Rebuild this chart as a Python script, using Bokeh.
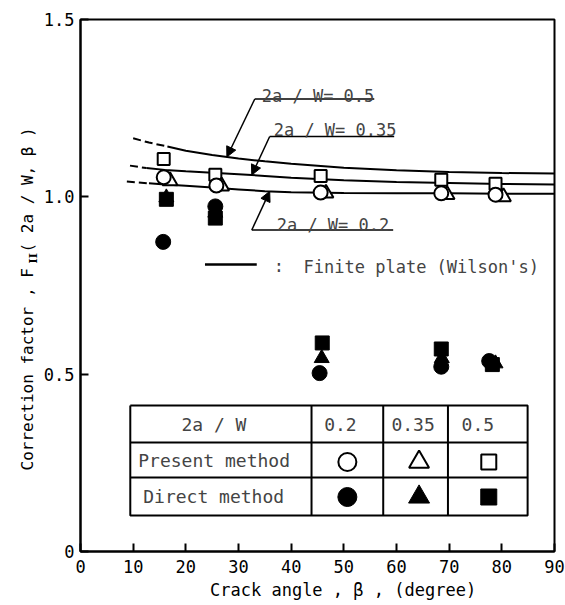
import numpy as np
from bokeh.plotting import figure
from bokeh.layouts import row
from bokeh.models import Label, Arrow, NormalHead, FixedTicker, Range1d
from bokeh.core.properties import value
from bokeh.embed import file_html
from bokeh.resources import INLINE

# ---------------- data ----------------
# Wilson's finite plate solution curves
curve_beta_05 = [10, 13, 16.5, 20, 25, 30, 35, 40, 50, 60, 70, 80, 90]
curve_F_05 = [1.165, 1.153, 1.142, 1.130, 1.118, 1.108, 1.100, 1.093, 1.082, 1.075, 1.070, 1.067, 1.066]
dash_end_05 = 16.5

curve_beta_035 = [9.4, 12.5, 16, 20, 25, 30, 35, 40, 50, 60, 70, 80, 90]
curve_F_035 = [1.088, 1.081, 1.076, 1.072, 1.068, 1.064, 1.059, 1.054, 1.047, 1.042, 1.039, 1.036, 1.035]
dash_end_035 = 12.5

curve_beta_02 = [8.8, 13, 16, 20, 25, 30, 35, 40, 50, 60, 70, 80, 90]
curve_F_02 = [1.043, 1.038, 1.035, 1.031, 1.026, 1.021, 1.016, 1.013, 1.011, 1.010, 1.010, 1.009, 1.009]
dash_end_02 = 13

# Present method (open symbols)
present_beta_02 = [15.8, 25.8, 45.6, 68.5, 78.8]
present_F_02 = [1.055, 1.032, 1.012, 1.010, 1.006]
present_beta_035 = [17.0, 26.8, 46.6, 69.6, 80.3]
present_F_035 = [1.045, 1.030, 1.010, 1.006, 1.000]
present_beta_05 = [15.8, 25.6, 45.6, 68.5, 78.8]
present_F_05 = [1.107, 1.062, 1.059, 1.048, 1.037]

# Direct method (filled symbols)
direct_beta_02 = [15.7, 25.6, 45.4, 68.5, 77.6]
direct_F_02 = [0.873, 0.973, 0.503, 0.521, 0.537]
direct_beta_035 = [16.3, 25.6, 45.8, 68.6, 78.8]
direct_F_035 = [0.998, 0.955, 0.545, 0.545, 0.530]
direct_beta_05 = [16.3, 25.6, 45.9, 68.5, 78.2]
direct_F_05 = [0.993, 0.940, 0.588, 0.571, 0.527]

x_ticks = [0, 10, 20, 30, 40, 50, 60, 70, 80, 90]
y_ticks = [0, 0.5, 1.0, 1.5]
y_tick_labels = ["0", "0.5", "1.0", "1.5"]
table_header = ["2a / W", "0.2", "0.35", "0.5"]
table_rows = ["Present method", "Direct method"]
x_title = "Crack  angle , β , (degree)"
y_title_main = "Correction factor , F"
y_title_sub = "II"
y_title_tail = "( 2a / W, β )"

# ---------------- layout helpers (reference-pixel -> data) ----------------
FL, FR, FT, FB = 78, 554, 19, 551
def X(px):
    return (px - FL) / (FR - FL) * 90.0
def Y(py):
    return (FB - py) / (FB - FT) * 1.5

MONO = "DejaVu Sans Mono"
LEFT_W = 40

p = figure(width=565 - LEFT_W, height=605, x_range=Range1d(0, 90), y_range=Range1d(0, 1.5),
           output_backend="svg", toolbar_location=None,
           min_border_left=FL - LEFT_W, min_border_right=565 - FR, min_border_top=FT,
           min_border_bottom=605 - FB)
p.background_fill_color = "white"
p.border_fill_color = "white"
p.xgrid.visible = False
p.ygrid.visible = False
p.outline_line_color = "black"
p.outline_line_width = 2
p.outline_line_alpha = 1

for ax in (p.xaxis[0], p.yaxis[0]):
    ax.axis_line_width = 2
    ax.major_tick_in = 8
    ax.major_tick_out = 0
    ax.major_tick_line_width = 2
    ax.minor_tick_line_color = None
    ax.major_label_text_font = MONO
    ax.major_label_text_font_size = "17px"
    ax.major_label_text_color = "black"

p.xaxis.ticker = FixedTicker(ticks=x_ticks)
p.xaxis.major_label_standoff = 8
p.xaxis.axis_label = "\u00a0" * 6 + x_title
p.xaxis.axis_label_text_font = MONO
p.xaxis.axis_label_text_font_size = "17px"
p.xaxis.axis_label_text_font_style = "normal"
p.xaxis.axis_label_text_color = "black"
p.xaxis.axis_label_standoff = 4
p.yaxis.ticker = FixedTicker(ticks=y_ticks)
p.yaxis.major_label_overrides = {t: s for t, s in zip(y_ticks, y_tick_labels)}
p.yaxis.major_label_standoff = 6

# ---------------- curves ----------------
def draw_curve(b, f, cut):
    i = b.index(cut)
    p.line(b[:i + 1], f[:i + 1], line_color="black", line_width=2, line_dash="8 4")
    p.line(b[i:], f[i:], line_color="black", line_width=2)

draw_curve(curve_beta_05, curve_F_05, dash_end_05)
draw_curve(curve_beta_035, curve_F_035, dash_end_035)
draw_curve(curve_beta_02, curve_F_02, dash_end_02)

# ---------------- markers ----------------
p.scatter(direct_beta_035, direct_F_035, marker="triangle", size=15, fill_color="black", line_color="black")
p.scatter(direct_beta_05, direct_F_05, marker="square", size=14, fill_color="black", line_color="black")
p.scatter(direct_beta_02, direct_F_02, marker="circle", size=15, fill_color="black", line_color="black")

p.scatter(present_beta_05, present_F_05, marker="square", size=12, fill_color="white", line_color="black", line_width=2)
p.scatter(present_beta_035, present_F_035, marker="triangle", size=15, fill_color="white", line_color="black", line_width=2)
p.scatter(present_beta_02, present_F_02, marker="circle", size=14, fill_color="white", line_color="black", line_width=2)

# ---------------- curve annotations ----------------
def annotate(text, tx, ty, uy, ux0, ux1, tip_px, cb, cf):
    p.add_layout(Label(x=X(tx), y=Y(ty), text=text, text_font=MONO, text_font_size="17px",
                       text_baseline="alphabetic"))
    p.line([X(ux0), X(ux1)], [Y(uy), Y(uy)], line_color="black", line_width=1.5)
    bt = X(tip_px)
    p.add_layout(Arrow(end=NormalHead(size=10, fill_color="black", line_color="black", line_width=1),
                       x_start=X(ux0), y_start=Y(uy), x_end=bt, y_end=float(np.interp(bt, cb, cf)),
                       line_color="black", line_width=1.5))

annotate("2a / W= 0.5", 260, 95, 98.5, 253, 373, 225, curve_beta_05, curve_F_05)
annotate("2a / W= 0.35", 272, 129, 136, 268, 393, 250, curve_beta_035, curve_F_035)
annotate("2a / W= 0.2", 275, 224, 229.5, 250, 392, 268, curve_beta_02, curve_F_02)

# legend line
p.line([X(203), X(255)], [Y(264), Y(264)], line_color="black", line_width=2.5)
p.add_layout(Label(x=X(272), y=Y(265), text=":", text_font=MONO, text_font_size="17px", text_baseline="middle"))
p.add_layout(Label(x=X(302), y=Y(266), text="Finite plate (Wilson's)", text_font=MONO,
                   text_font_size="17px", text_baseline="middle"))

# ---------------- table ----------------
tl, tr, tt, tb = X(128), X(527), Y(405), Y(515)
rows_y = [Y(442), Y(477)]
cols_x = [X(310), X(382), X(447)]
xs = [[tl, tr, tr, tl, tl]] + [[tl, tr] for _ in rows_y] + [[c, c] for c in cols_x]
ys = [[tt, tt, tb, tb, tt]] + [[r, r] for r in rows_y] + [[tt, tb] for _ in cols_x]
p.multi_line(xs, ys, line_color="black", line_width=2)

hdr_x = [X(212), X(339), X(412), X(477)]
for hx, ht in zip(hdr_x, table_header):
    p.add_layout(Label(x=hx, y=Y(424), text=ht, text_font=MONO, text_font_size="18px",
                       text_align="center", text_baseline="middle"))
p.add_layout(Label(x=X(136), y=Y(460), text=table_rows[0], text_font=MONO, text_font_size="18px",
                   text_baseline="middle"))
p.add_layout(Label(x=X(141), y=Y(496), text=table_rows[1], text_font=MONO, text_font_size="18px",
                   text_baseline="middle"))

sym_x = [X(346), X(418), X(488)]
p.scatter([sym_x[0]], [Y(461.5)], marker="circle", size=18, fill_color="white", line_color="black", line_width=2)
p.scatter([sym_x[1]], [Y(461.5)], marker="triangle", size=20, fill_color="white", line_color="black", line_width=2)
p.scatter([sym_x[2]], [Y(461.5)], marker="square", size=15, fill_color="white", line_color="black", line_width=2)
p.scatter([sym_x[0]], [Y(496.5)], marker="circle", size=19, fill_color="black", line_color="black")
p.scatter([sym_x[1]], [Y(496.5)], marker="triangle", size=21, fill_color="black", line_color="black")
p.scatter([sym_x[2]], [Y(496.5)], marker="square", size=16, fill_color="black", line_color="black")

# ---------------- y-axis title strip (text with subscript) ----------------
# frame of this strip spans the same rows as the main frame (FT..FB), in reference pixels
pl = figure(width=LEFT_W, height=605, x_range=Range1d(0, LEFT_W), y_range=Range1d(FB, FT),
            output_backend="svg", toolbar_location=None, x_axis_type=None, y_axis_type=None,
            min_border_left=0, min_border_right=0, min_border_top=FT, min_border_bottom=605 - FB)
pl.outline_line_color = None
pl.xgrid.visible = False
pl.ygrid.visible = False
pl.text(x=[27], y=[470], text=[y_title_main], angle=np.pi / 2, text_font=value(MONO),
        text_font_size="16px", text_baseline="middle", text_align="left", text_color="black")
pl.text(x=[33], y=[263], text=[y_title_sub], angle=np.pi / 2, text_font=value("DejaVu Serif"),
        text_font_style="bold", text_font_size="11px", text_baseline="middle", text_align="left",
        text_color="black")
pl.text(x=[27], y=[252], text=[y_title_tail], angle=np.pi / 2, text_font=value(MONO),
        text_font_size="16px", text_baseline="middle", text_align="left", text_color="black")

layout = row(pl, p, spacing=0)
open("out.html", "w").write(file_html(layout, INLINE))
